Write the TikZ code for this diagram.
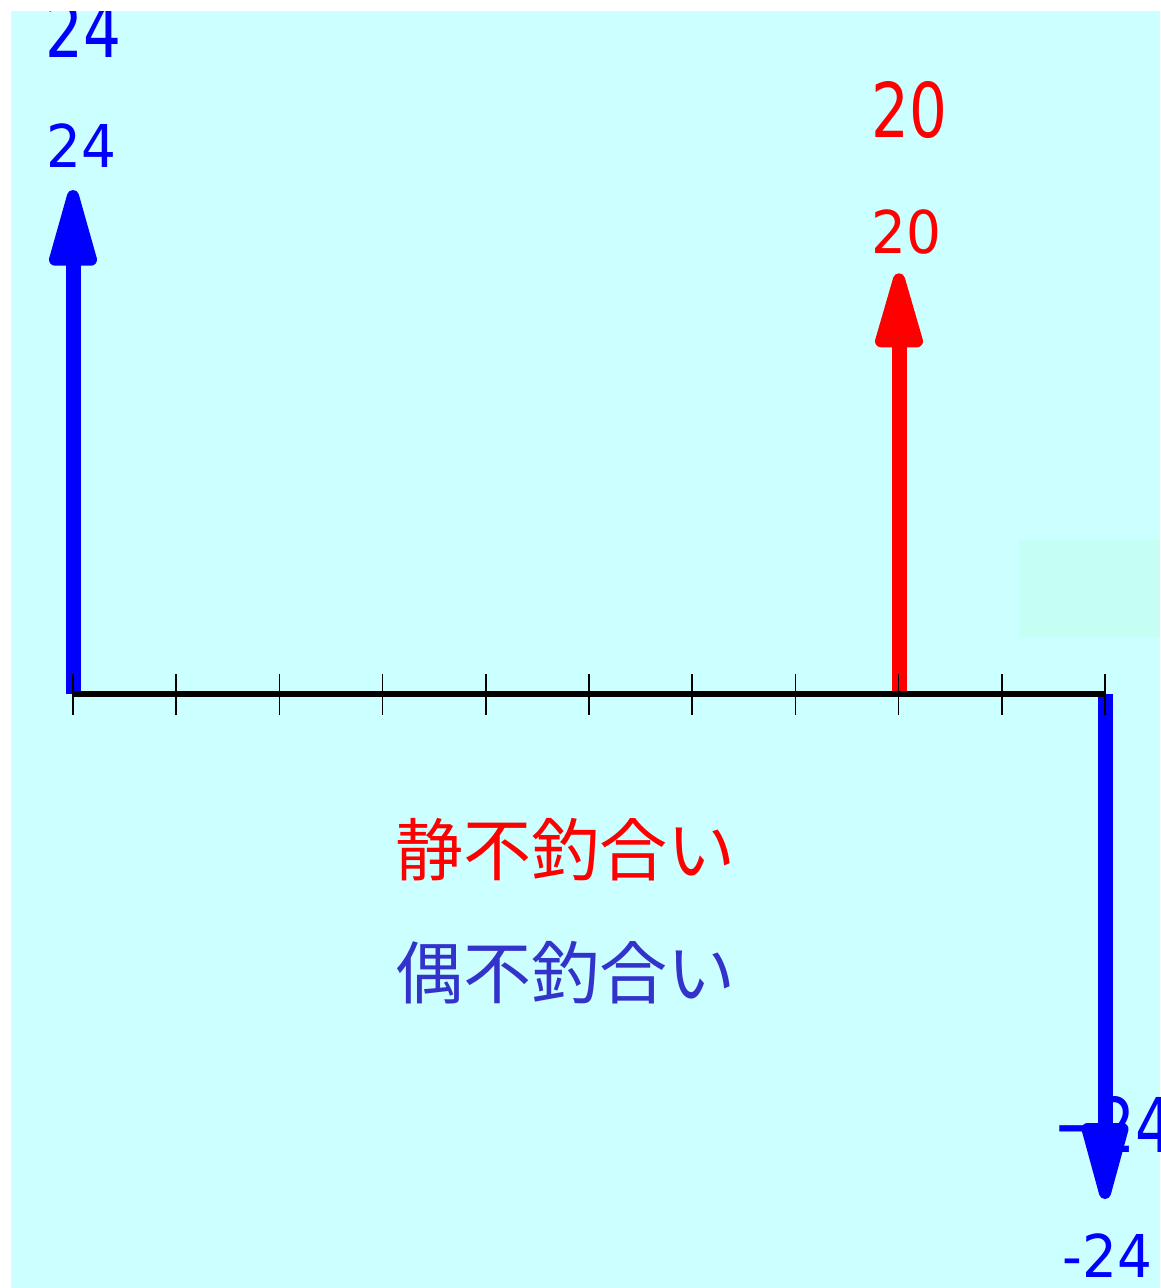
\documentclass[tikz,border=0pt]{standalone}
\usepackage{fontspec}
\setmainfont{DejaVu Sans}
\newfontfamily\cjk{Noto Sans CJK JP}
\definecolor{bgcyan}{RGB}{204,255,255}
\definecolor{patchc}{RGB}{197,255,243}
\definecolor{fblue}{RGB}{0,0,255}
\definecolor{fred}{RGB}{255,0,0}
\definecolor{jblue}{RGB}{51,51,204}
\tikzset{
  shaft/.style={line width=15pt, line cap=butt},
  headtip/.style={line width=12pt, line join=round},
  axisline/.style={line width=5.5pt, black},
  tickline/.style={line width=1.6pt, black},
  smalllab/.style={inner sep=0pt, anchor=base west, font=\fontsize{59}{59}\selectfont},
  biglab/.style={inner sep=0pt, anchor=base west, font=\fontsize{64}{64}\selectfont},
  jplab/.style={inner sep=0pt, anchor=base west, font=\cjk\fontsize{68}{68}\selectfont}
}
\begin{document}
\begin{tikzpicture}[x=1pt,y=-1pt]
\useasboundingbox (0,0) rectangle (1160,1288);
\fill[white] (0,0) rectangle (1160,1288);
\begin{scope}
\clip (11,11) rectangle (1160,1288);
\fill[bgcyan] (11,11) rectangle (1160,1288);
\fill[patchc] (1019,540) rectangle (1160,637);
% labels
\node[biglab, text=fblue] (bigL) at (45,57) {\scalebox{0.93}[1.18]{24}};
\node[smalllab, text=fblue] (smallL) at (46.6,167) {\scalebox{0.93}[1]{24}};
\node[biglab, text=fred] (bigM) at (871,137) {\scalebox{0.93}[1.18]{20}};
\node[smalllab, text=fred] (smallM) at (871.3,253) {\scalebox{0.93}[1]{20}};
\node[biglab, text=fblue] (bigR) at (1053,1152) {\scalebox{0.93}[1.18]{−\kern-6pt 24}};
\node[smalllab, text=fblue] (smallR) at (1062.3,1277) {\scalebox{0.93}[1]{-24}};
\node[jplab, text=fred] (jp1) at (395,875) {静不釣合い};
\node[jplab, text=jblue] (jp2) at (395,998) {偶不釣合い};
% coordinates
\coordinate (L0) at (73,694);
\coordinate (Lh) at (73,262);
\coordinate (Lt) at (73,196);
\coordinate (Lb1) at (55,259.7);
\coordinate (Lb2) at (91,259.7);
\coordinate (M0) at (899,694);
\coordinate (Mh) at (899,344);
\coordinate (Mt) at (899,279.3);
\coordinate (Mb1) at (881,341.3);
\coordinate (Mb2) at (917,341.3);
\coordinate (R0) at (1105,694);
\coordinate (Rh) at (1105,1126);
\coordinate (Rt) at (1105,1193);
\coordinate (Rb1) at (1087.5,1129);
\coordinate (Rb2) at (1122.5,1129);
% arrows
\draw[shaft, fblue] (L0) -- (Lh);
\filldraw[headtip, fblue] (Lt) -- (Lb1) -- (Lb2) -- cycle;
\draw[shaft, fred] (M0) -- (Mh);
\filldraw[headtip, fred] (Mt) -- (Mb1) -- (Mb2) -- cycle;
\draw[shaft, fblue] (R0) -- (Rh);
\filldraw[headtip, fblue] (Rt) -- (Rb1) -- (Rb2) -- cycle;
% axis
\draw[axisline] (L0) -- (R0);
\foreach \i in {0,...,10} {
  \draw[tickline] ({73+\i*103.2},674) -- ({73+\i*103.2},715);
}
\end{scope}
\end{tikzpicture}
\end{document}
